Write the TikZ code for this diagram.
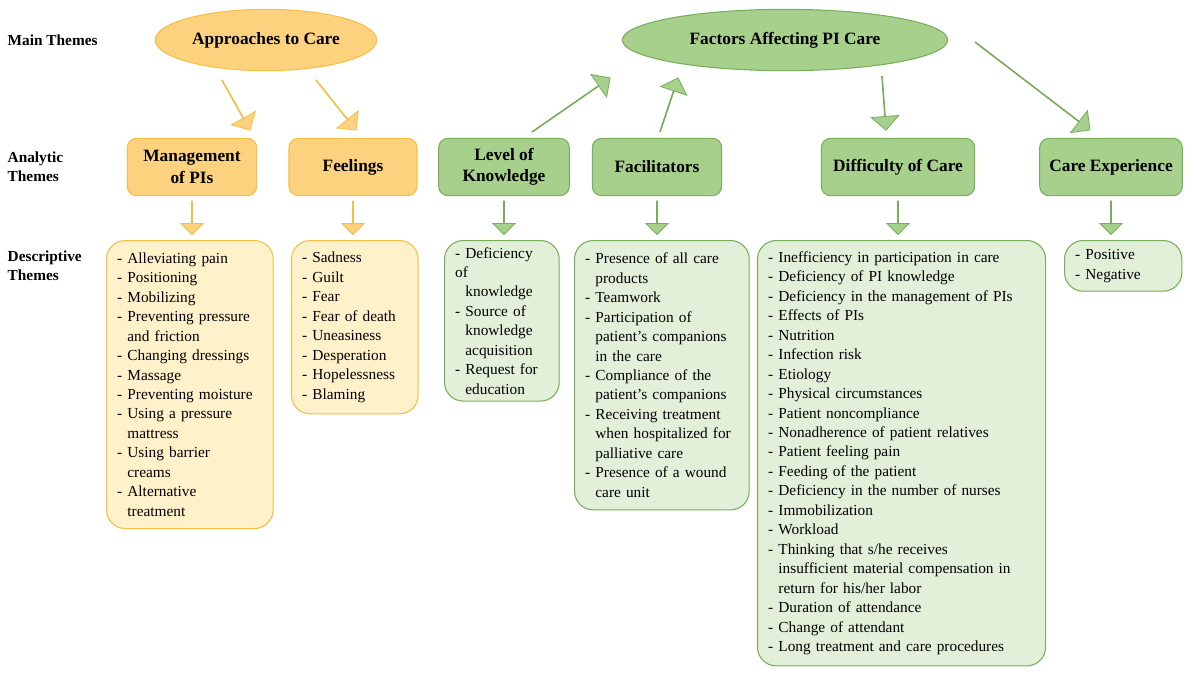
\documentclass[tikz,border=0pt]{standalone}
\usepackage{fontspec}
\setmainfont{Liberation Serif}
\usetikzlibrary{shapes.geometric,shapes.arrows,calc}
\definecolor{oF}{HTML}{FDD27E}\definecolor{oD}{HTML}{F5BE45}
\definecolor{oL}{HTML}{FFF1C9}
\definecolor{gF}{HTML}{A8D08D}\definecolor{gD}{HTML}{78AE59}
\definecolor{gL}{HTML}{E3F0D9}
\begin{document}
\begin{tikzpicture}[x=0.75pt,y=-0.75pt,
 every node/.style={font=\fontsize{11.5}{14.6}\selectfont},
 lbl/.style={font=\fontsize{11.5}{14.6}\selectfont\bfseries,anchor=west,align=left},
 ell/.style={ellipse,draw=#1D,fill=#1F,line width=0.8pt,font=\fontsize{13}{16}\selectfont\bfseries},
 ana/.style={rectangle,rounded corners=7pt,draw=#1D,fill=#1F,line width=0.8pt,align=center,font=\fontsize{13}{16}\selectfont\bfseries},
 des/.style={rectangle,rounded corners=14pt,draw=#1D,fill=#1L,line width=0.8pt,align=left,anchor=north west,inner xsep=8pt,inner ysep=5pt},
 barr/.style={single arrow,draw=#1D,fill=#1F,line width=0.6pt,single arrow head extend=10pt,minimum width=15pt,inner sep=0pt,sloped},
]
\useasboundingbox (0,0) rectangle (1200,679);
\node[lbl] (m) at (3,40) {Main Themes};
\node[lbl] (an) at (3,167) {Analytic\\Themes};
\node[lbl] (de) at (3,266) {Descriptive\\Themes};

\node[ell=o,minimum width=135pt,minimum height=46pt] (A) at (266,40) {Approaches to Care};
\node[ell=g,minimum width=244pt,minimum height=46pt] (F) at (785,40) {Factors Affecting PI Care};

\node[ana=o,minimum width=97pt,minimum height=43pt] (a1) at (192,167) {Management\\of PIs};
\node[ana=o,minimum width=96pt,minimum height=43pt] (a2) at (353,167) {Feelings};
\node[ana=g,minimum width=98pt,minimum height=43pt] (a3) at (504,167) {Level of\\Knowledge};
\node[ana=g,minimum width=97pt,minimum height=43pt] (a4) at (657,167) {Facilitators};
\node[ana=g,minimum width=115pt,minimum height=43pt] (a5) at (898,167) {Difficulty of Care};
\node[ana=g,minimum width=107pt,minimum height=43pt] (a6) at (1111,167) {Care Experience};

\node[des=o,text width=109pt,minimum height=216pt] (d1) at (106,240) {- Alleviating pain\\- Positioning\\- Mobilizing\\- Preventing pressure\\\phantom{- }and friction\\- Changing dressings\\- Massage\\- Preventing moisture\\- Using a pressure\\\phantom{- }mattress\\- Using barrier\\\phantom{- }creams\\- Alternative\\\phantom{- }treatment};
\node[des=o,text width=79pt,minimum height=130pt] (d2) at (291,240) {- Sadness\\- Guilt\\- Fear\\- Fear of death\\- Uneasiness\\- Desperation\\- Hopelessness\\- Blaming};
\node[des=g,text width=70pt,minimum height=116pt] (d3) at (444,240) {- Deficiency of\\\phantom{- }knowledge\\- Source of\\\phantom{- }knowledge\\\phantom{- }acquisition\\- Request for\\\phantom{- }education};
\node[des=g,text width=115pt,minimum height=202pt] (d4) at (574,240) {- Presence of all care\\\phantom{- }products\\- Teamwork\\- Participation of\\\phantom{- }patient's companions\\\phantom{- }in the care\\- Compliance of the\\\phantom{- }patient's companions\\- Receiving treatment\\\phantom{- }when hospitalized for\\\phantom{- }palliative care\\- Presence of a wound\\\phantom{- }care unit};
\node[des=g,text width=200pt,minimum height=319pt] (d5) at (757,240) {- Inefficiency in participation in care\\- Deficiency of PI knowledge\\- Deficiency in the management of PIs\\- Effects of PIs\\- Nutrition\\- Infection risk\\- Etiology\\- Physical circumstances\\- Patient noncompliance\\- Nonadherence of patient relatives\\- Patient feeling pain\\- Feeding of the patient\\- Deficiency in the number of nurses\\- Immobilization\\- Workload\\- Thinking that s/he receives\\\phantom{- }insufficient material compensation in\\\phantom{- }return for his/her labor\\- Duration of attendance\\- Change of attendant\\- Long treatment and care procedures};
\node[des=g,text width=72pt,minimum height=38pt] (d6) at (1064,240) {- Positive\\- Negative};

\coordinate (t1) at (222,80); \coordinate (h1) at (250,130);
\coordinate (t2) at (316,80); \coordinate (h2) at (356,130);
\coordinate (t3) at (610,78); \coordinate (h3) at (532,132);
\coordinate (t4) at (678,78); \coordinate (h4) at (660,132);
\coordinate (t5) at (882,76); \coordinate (h5) at (886,130);
\coordinate (t6) at (975,42); \coordinate (h6) at (1090,130);
\foreach \t/\h/\c in {t1/h1/o,t2/h2/o,t3/h3/g,t4/h4/g,t5/h5/g,t6/h6/g}{
 \path let \p1=(\t), \p2=(\h), \n1={veclen(\x2-\x1,\y2-\y1)} in
  (\p1) -- (\p2) node[midway,barr=\c,minimum height=\n1]{};
}
\foreach \a/\d/\c in {a1/d1/o,a2/d2/o,a3/d3/g,a4/d4/g,a5/d5/g,a6/d6/g}{
 \path (\a.south) ++(0,5) coordinate (s);
 \path (s|-\d.north) ++(0,-6) coordinate (e);
 \path (s) -- (e) node[midway,barr=\c,minimum height=25pt,minimum width=14pt,single arrow head extend=8pt]{};
}
\end{tikzpicture}
\end{document}
